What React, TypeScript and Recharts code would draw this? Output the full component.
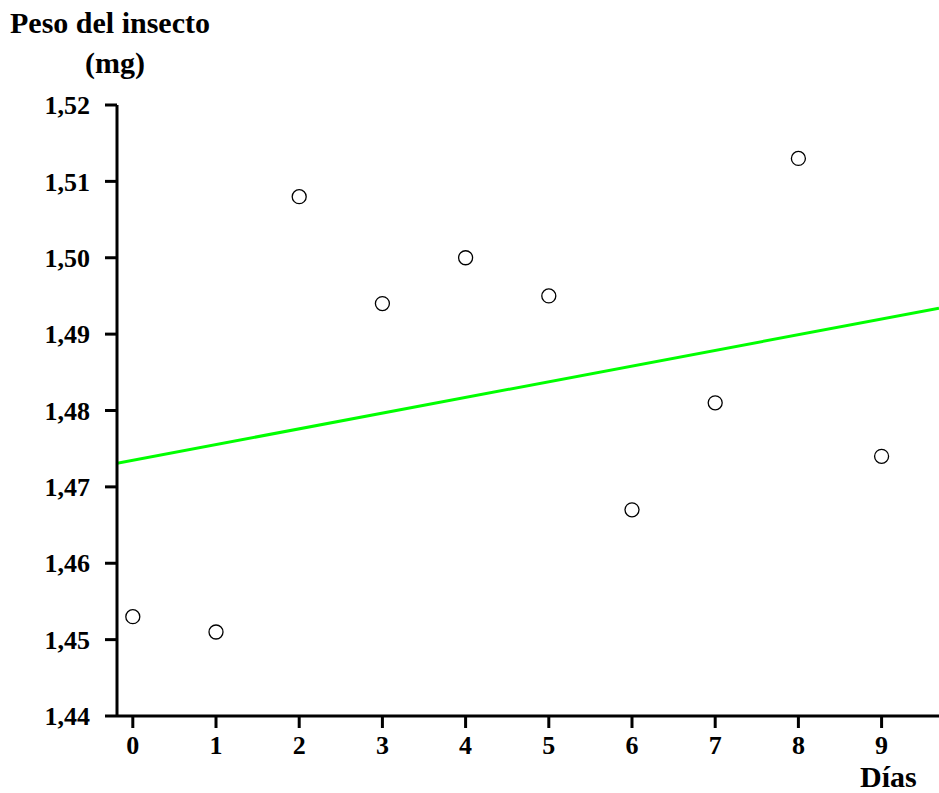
import { ComposedChart, Scatter, Line, XAxis, YAxis } from 'recharts';

const days = [0, 1, 2, 3, 4, 5, 6, 7, 8, 9];
const weights = [1.453, 1.451, 1.508, 1.494, 1.5, 1.495, 1.467, 1.481, 1.513, 1.474];
const fitX = [-0.19, 9.69];
const fitY = [1.4731, 1.4934];
const yTicks = [1.44, 1.45, 1.46, 1.47, 1.48, 1.49, 1.5, 1.51, 1.52];

const points = days.map((d, i) => ({ x: d, y: weights[i] }));
const fitLine = fitX.map((x, i) => ({ x, y: fitY[i] }));

const FONT = '"Liberation Serif", "Times New Roman", serif';
const tickStyle = { fill: '#000', fontSize: 26, fontWeight: 700, fontFamily: FONT };
const labelStyle = { position: 'absolute' as const, fontFamily: FONT, fontWeight: 700, fontSize: 30, lineHeight: '34px', whiteSpace: 'nowrap' as const };

const fmt = (v: number) => v.toFixed(2).replace('.', ',');

export default function App() {
    return (
        <div style={{ position: 'absolute', left: 0, top: 0, width: 939, height: 793, background: '#fff' }}>
            <div style={{ ...labelStyle, left: 10, top: 6 }}>Peso del insecto</div>
            <div style={{ ...labelStyle, left: 65, top: 46, width: 100, textAlign: 'center' }}>(mg)</div>
            <div style={{ ...labelStyle, left: 860, top: 760 }}>Días</div>
            <ComposedChart width={939} height={793} margin={{ top: 105, right: 0, bottom: 0, left: 0 }}>
                <XAxis
                    dataKey="x"
                    type="number"
                    domain={[-0.19, 9.69]}
                    ticks={days}
                    allowDataOverflow
                    height={77}
                    axisLine={{ stroke: '#000', strokeWidth: 3 }}
                    tickLine={{ stroke: '#000', strokeWidth: 3 }}
                    tickSize={12}
                    tick={tickStyle}
                    tickMargin={8}
                />
                <YAxis
                    dataKey="y"
                    type="number"
                    domain={[1.44, 1.52]}
                    ticks={yTicks}
                    allowDataOverflow
                    width={117}
                    axisLine={{ stroke: '#000', strokeWidth: 3 }}
                    tickLine={{ stroke: '#000', strokeWidth: 3 }}
                    tickSize={12}
                    tick={tickStyle}
                    tickMargin={15}
                    tickFormatter={fmt}
                />
                <Line
                    data={fitLine}
                    dataKey="y"
                    type="linear"
                    stroke="#00ff00"
                    strokeWidth={3}
                    dot={false}
                    activeDot={false}
                    isAnimationActive={false}
                />
                <Scatter
                    data={points}
                    dataKey="y"
                    isAnimationActive={false}
                    shape={(p: any) => <circle cx={p.cx} cy={p.cy} r={7} fill="#fff" stroke="#000" strokeWidth={1.3} />}
                />
            </ComposedChart>
        </div>
    );
}
